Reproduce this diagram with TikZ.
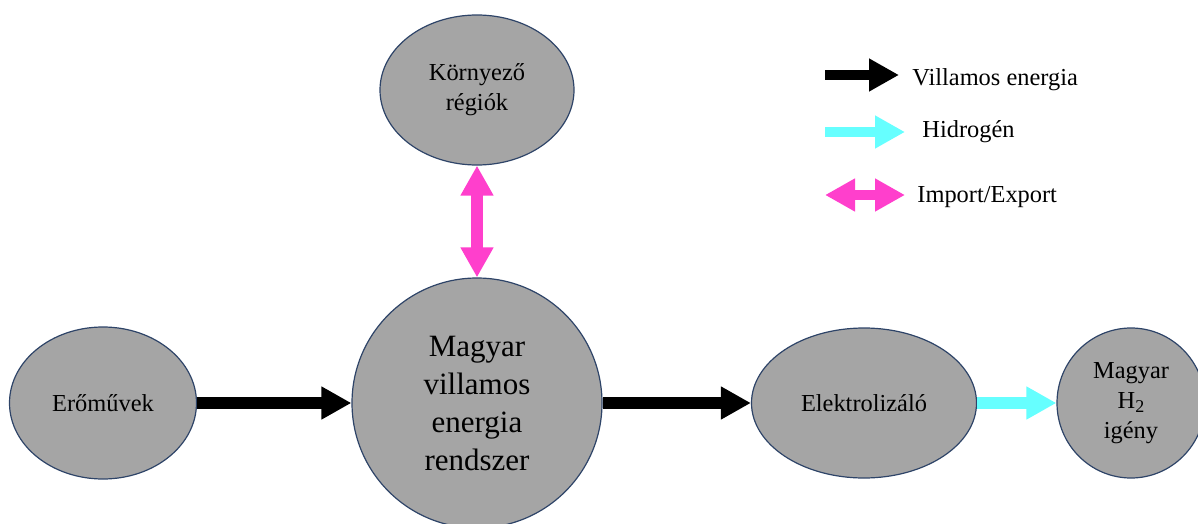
\documentclass[tikz,border=0pt]{standalone}
\usepackage{fontspec}
\setmainfont{Liberation Serif}
\usetikzlibrary{positioning,
        shapes.geometric,
        arrows.meta}
\definecolor{nodegray}{HTML}{A5A5A5}
\definecolor{nodeline}{HTML}{2E4468}
\definecolor{imppink}{HTML}{FF3FCC}
\definecolor{hydcyan}{HTML}{66FFFF}

\begin{document}
\begin{tikzpicture}[x=0.5pt,y=-0.5pt,
        region/.style={ellipse,draw=nodeline,fill=nodegray,line width=0.6pt,inner sep=0pt,
            align=center,font=\fontsize{12.2}{15}\selectfont},
        flow/.style={line width=6pt,-{Triangle[length=15pt,width=15.5pt]}},
        twoway/.style={line width=6pt,{Triangle[length=15pt,width=15.5pt]}-{Triangle[length=15pt,width=15.5pt]}},
        keytext/.style={anchor=base west,inner sep=0pt,font=\fontsize{12.2}{15}\selectfont}]
    \useasboundingbox (0,0) rectangle (1198,524);

    \node [region,minimum width=97pt,minimum height=75pt] (Kornyezo) at (477,90) {Környező\\régiók};
    \node [region,minimum width=93.5pt,minimum height=76pt] (Eromu) at (103,403) {Erőművek};
    \node [region,minimum width=125pt,minimum height=125pt,font=\fontsize{15.5}{19}\selectfont] (Magyar) at (477,403) {Magyar\\villamos\\energia\\rendszer};
    \node [region,minimum width=112.5pt,minimum height=75pt] (Elektro) at (864,403) {Elektrolizáló};
    \node [region,minimum width=74pt,minimum height=75pt] (Igeny) at (1131,403) {Magyar\\H\raisebox{-0.4ex}{\fontsize{9}{9}\selectfont 2}\\igény};

    \draw [twoway,imppink] (Kornyezo) -- (Magyar);
    \draw [flow] (Eromu) -- (Magyar);
    \draw [flow] (Magyar) -- (Elektro);
    \draw [flow,hydcyan] (Elektro) -- (Igeny);

    % jelmagyarazat
    \coordinate (k1a) at (825,75);
    \coordinate (k1b) at (899,75);
    \coordinate (k2a) at (825,132);
    \coordinate (k2b) at (905,132);
    \coordinate (k3a) at (825,195);
    \coordinate (k3b) at (905,195);
    \draw [flow,line width=5pt] (k1a) -- (k1b);
    \draw [flow,line width=5pt,hydcyan] (k2a) -- (k2b);
    \draw [twoway,line width=5pt,imppink] (k3a) -- (k3b);
    \node [keytext] (k1) at (912,86) {Villamos energia};
    \node [keytext] (k2) at (922,137) {Hidrogén};
    \node [keytext] (k3) at (917,202) {Import/Export};
\end{tikzpicture}
\end{document}
